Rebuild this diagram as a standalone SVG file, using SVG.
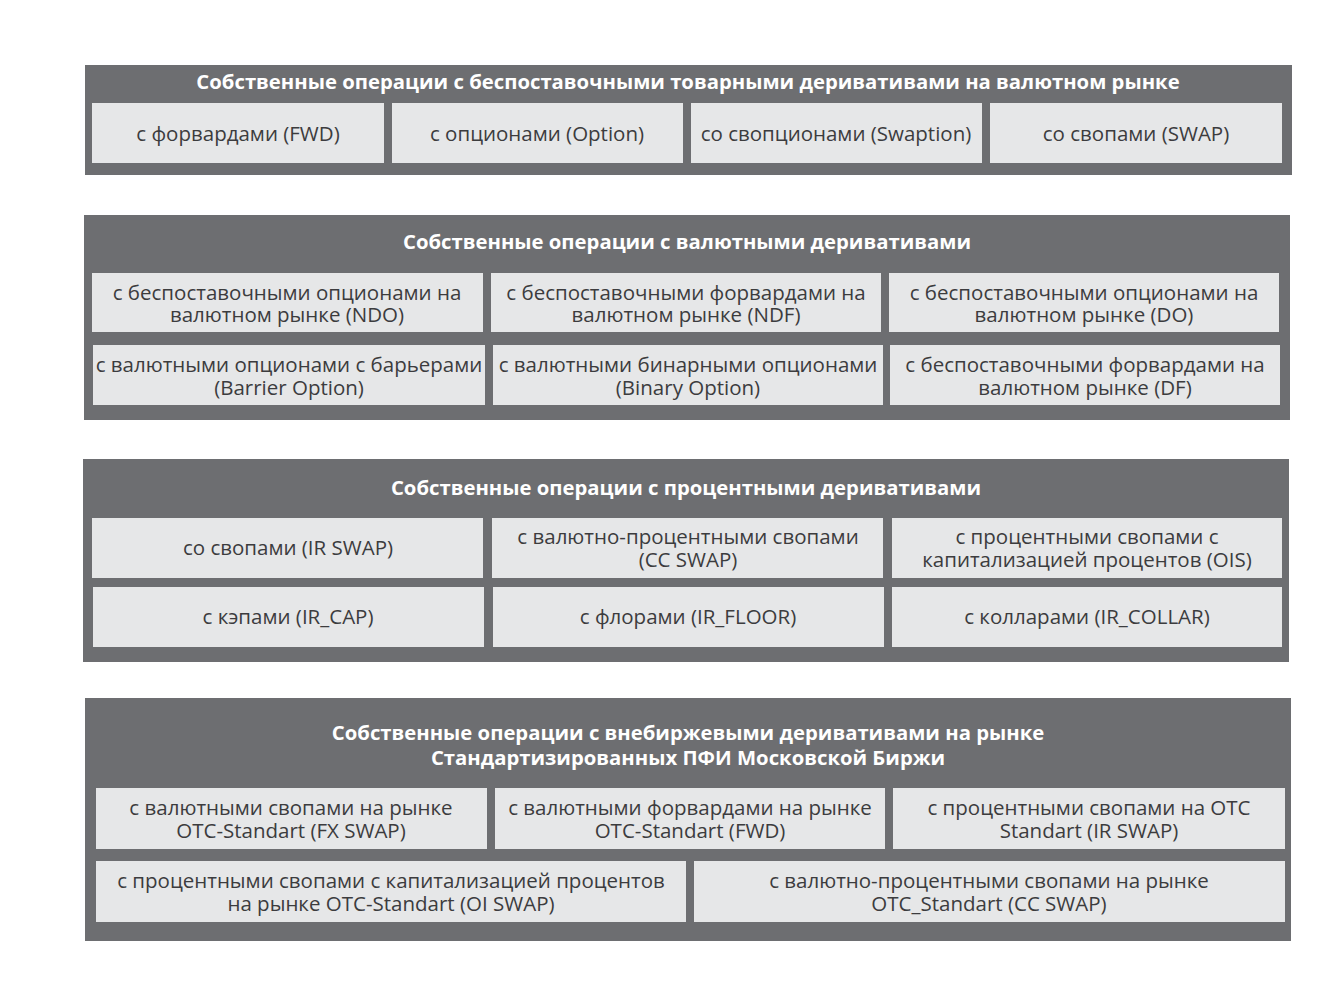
<svg xmlns="http://www.w3.org/2000/svg" width="1337" height="1001" viewBox="0 0 1337 1001">
<style>
.panel{fill:#6d6e71}
.box{fill:#e6e7e8}
.t{font-family:"Open Sans","Noto Sans","DejaVu Sans",sans-serif;font-weight:700;font-size:20.3px;fill:#ffffff;text-anchor:middle}
.i{font-family:"Open Sans","Noto Sans","DejaVu Sans",sans-serif;font-size:20.5px;fill:#3c3c3e;text-anchor:middle}
</style>
<rect width="1337" height="1001" fill="#ffffff"/>
<g id="panel1">
<rect class="panel" x="85" y="65" width="1207" height="110"/>
<text class="t" x="688" y="89">Собственные операции с беспоставочными товарными деривативами на валютном рынке</text>
</g>
<g id="p1n1"><rect class="box" x="92" y="103" width="292" height="60"/><text class="i" x="238" y="141">с форвардами (FWD)</text></g>
<g id="p1n2"><rect class="box" x="392" y="103" width="291" height="60"/><text class="i" x="537" y="141">с опционами (Option)</text></g>
<g id="p1n3"><rect class="box" x="691" y="103" width="291" height="60"/><text class="i" x="836" y="141">со свопционами (Swaption)</text></g>
<g id="p1n4"><rect class="box" x="990" y="103" width="292" height="60"/><text class="i" x="1136" y="141">со свопами (SWAP)</text></g>

<g id="panel2">
<rect class="panel" x="84" y="215" width="1206" height="205"/>
<text class="t" x="687" y="249">Собственные операции с валютными деривативами</text>
</g>
<g id="p2n1"><rect class="box" x="92" y="273" width="391" height="59"/><text class="i" x="287" y="300">с беспоставочными опционами на</text><text class="i" x="287" y="322">валютном рынке (NDO)</text></g>
<g id="p2n2"><rect class="box" x="491" y="273" width="390" height="59"/><text class="i" x="686" y="300">с беспоставочными форвардами на</text><text class="i" x="686" y="322">валютном рынке (NDF)</text></g>
<g id="p2n3"><rect class="box" x="889" y="273" width="390" height="59"/><text class="i" x="1084" y="300">с беспоставочными опционами на</text><text class="i" x="1084" y="322">валютном рынке (DO)</text></g>
<g id="p2n4"><rect class="box" x="93" y="345" width="392" height="60"/><text class="i" x="289" y="372">с валютными опционами с барьерами</text><text class="i" x="289" y="395">(Barrier Option)</text></g>
<g id="p2n5"><rect class="box" x="493" y="345" width="390" height="60"/><text class="i" x="688" y="372">с валютными бинарными опционами</text><text class="i" x="688" y="395">(Binary Option)</text></g>
<g id="p2n6"><rect class="box" x="890" y="345" width="390" height="60"/><text class="i" x="1085" y="372">с беспоставочными форвардами на</text><text class="i" x="1085" y="395">валютном рынке (DF)</text></g>

<g id="panel3">
<rect class="panel" x="83" y="459" width="1206" height="203"/>
<text class="t" x="686" y="495">Собственные операции с процентными деривативами</text>
</g>
<g id="p3n1"><rect class="box" x="92" y="518" width="391" height="60"/><text class="i" x="288" y="555">со свопами (IR SWAP)</text></g>
<g id="p3n2"><rect class="box" x="492" y="518" width="391" height="60"/><text class="i" x="688" y="544">с валютно-процентными свопами</text><text class="i" x="688" y="567">(CC SWAP)</text></g>
<g id="p3n3"><rect class="box" x="892" y="518" width="390" height="60"/><text class="i" x="1087" y="544">с процентными свопами с</text><text class="i" x="1087" y="567">капитализацией процентов (OIS)</text></g>
<g id="p3n4"><rect class="box" x="93" y="587" width="391" height="60"/><text class="i" x="288" y="624">с кэпами (IR_CAP)</text></g>
<g id="p3n5"><rect class="box" x="493" y="587" width="391" height="60"/><text class="i" x="688" y="624">с флорами (IR_FLOOR)</text></g>
<g id="p3n6"><rect class="box" x="892" y="587" width="390" height="60"/><text class="i" x="1087" y="624">с колларами (IR_COLLAR)</text></g>

<g id="panel4">
<rect class="panel" x="85" y="698" width="1206" height="243"/>
<text class="t" x="688" y="740">Собственные операции с внебиржевыми деривативами на рынке</text>
<text class="t" x="688" y="765">Стандартизированных ПФИ Московской Биржи</text>
</g>
<g id="p4n1"><rect class="box" x="96" y="788" width="391" height="61"/><text class="i" x="291" y="815">с валютными свопами на рынке</text><text class="i" x="291" y="838">OTC-Standart (FX SWAP)</text></g>
<g id="p4n2"><rect class="box" x="495" y="788" width="390" height="61"/><text class="i" x="690" y="815">с валютными форвардами на рынке</text><text class="i" x="690" y="838">OTC-Standart (FWD)</text></g>
<g id="p4n3"><rect class="box" x="893" y="788" width="392" height="61"/><text class="i" x="1089" y="815">с процентными свопами на OTC</text><text class="i" x="1089" y="838">Standart (IR SWAP)</text></g>
<g id="p4n4"><rect class="box" x="96" y="861" width="590" height="61"/><text class="i" x="391" y="888">с процентными свопами с капитализацией процентов</text><text class="i" x="391" y="911">на рынке OTC-Standart (OI SWAP)</text></g>
<g id="p4n5"><rect class="box" x="694" y="861" width="591" height="61"/><text class="i" x="989" y="888">с валютно-процентными свопами на рынке</text><text class="i" x="989" y="911">OTC_Standart (CC SWAP)</text></g>
<g id="connectors"/>
</svg>
